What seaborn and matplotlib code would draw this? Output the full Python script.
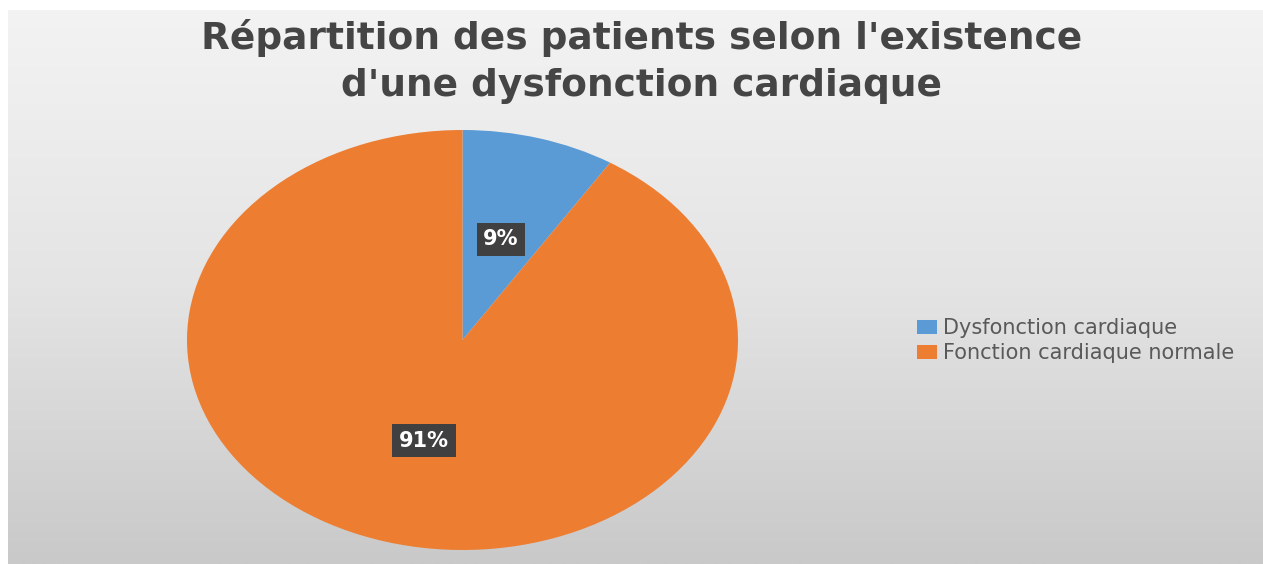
import numpy as np
import matplotlib
matplotlib.use("Agg")
import matplotlib.pyplot as plt
from matplotlib.colors import LinearSegmentedColormap
import seaborn as sns

# ---- data ----
categories = ["Dysfonction cardiaque", "Fonction cardiaque normale"]
values = [9, 91]
colors = ["#5b9bd5", "#ed7d31"]
title_lines = ["Répartition des patients selon l'existence",
               "d'une dysfonction cardiaque"]

sns.set_theme(style="white")
plt.rcParams['font.family'] = ['DejaVu Sans']

W, H = 1263, 564
fig = plt.figure(figsize=(W / 100, H / 100), dpi=100, facecolor="white")

# gradient background panel
bg = fig.add_axes([8 / W, 0, 1 - 8 / W, (H - 10) / H])
cmap = LinearSegmentedColormap.from_list("bg", ["#f3f3f3", "#e4e4e4", "#c9c9c9"])
grad = np.linspace(0, 1, 256).reshape(-1, 1)
bg.imshow(grad, cmap=cmap, aspect="auto", extent=[0, 1, 0, 1], origin="upper")
bg.set_axis_off()

# pie axes (stretched ellipse like the reference)
ax = fig.add_axes([187 / W, (H - 550) / H, 551 / W, 420 / H])
wedges, texts, autotexts = ax.pie(
    values, colors=colors, startangle=90, counterclock=False,
    autopct=lambda p: f"{p:.0f}%", pctdistance=0.5,
    wedgeprops=dict(edgecolor="none", linewidth=0),
)
# thin light separators between the slices (radial edges only)
for w in wedges:
    w.set_edgecolor("none")
ax.set_aspect("auto")
ax.set_xlim(-1, 1)
ax.set_ylim(-1, 1)
ax.patch.set_alpha(0)
for t in autotexts:
    t.set_color("white")
    t.set_fontsize(15)
    t.set_fontweight("bold")
    t.set_bbox(dict(boxstyle="square,pad=0.32", facecolor="#404040", edgecolor="none"))

# title
fig.text(641.5 / W, 1 - 49 / H, title_lines[0], ha="center", va="baseline",
         fontsize=27, fontweight="bold", color="#454545")
fig.text(641.5 / W, 1 - 96 / H, title_lines[1], ha="center", va="baseline",
         fontsize=27, fontweight="bold", color="#454545")

# legend
fig.legend(wedges, categories, loc="center left",
           bbox_to_anchor=(917 / W, 1 - 340.5 / H),
           frameon=False, fontsize=15, labelcolor="#595959",
           handlelength=0.95, handleheight=0.65, handletextpad=0.3,
           labelspacing=0.25, borderpad=0, borderaxespad=0)

fig.savefig("out.png", dpi=100, facecolor="white")
